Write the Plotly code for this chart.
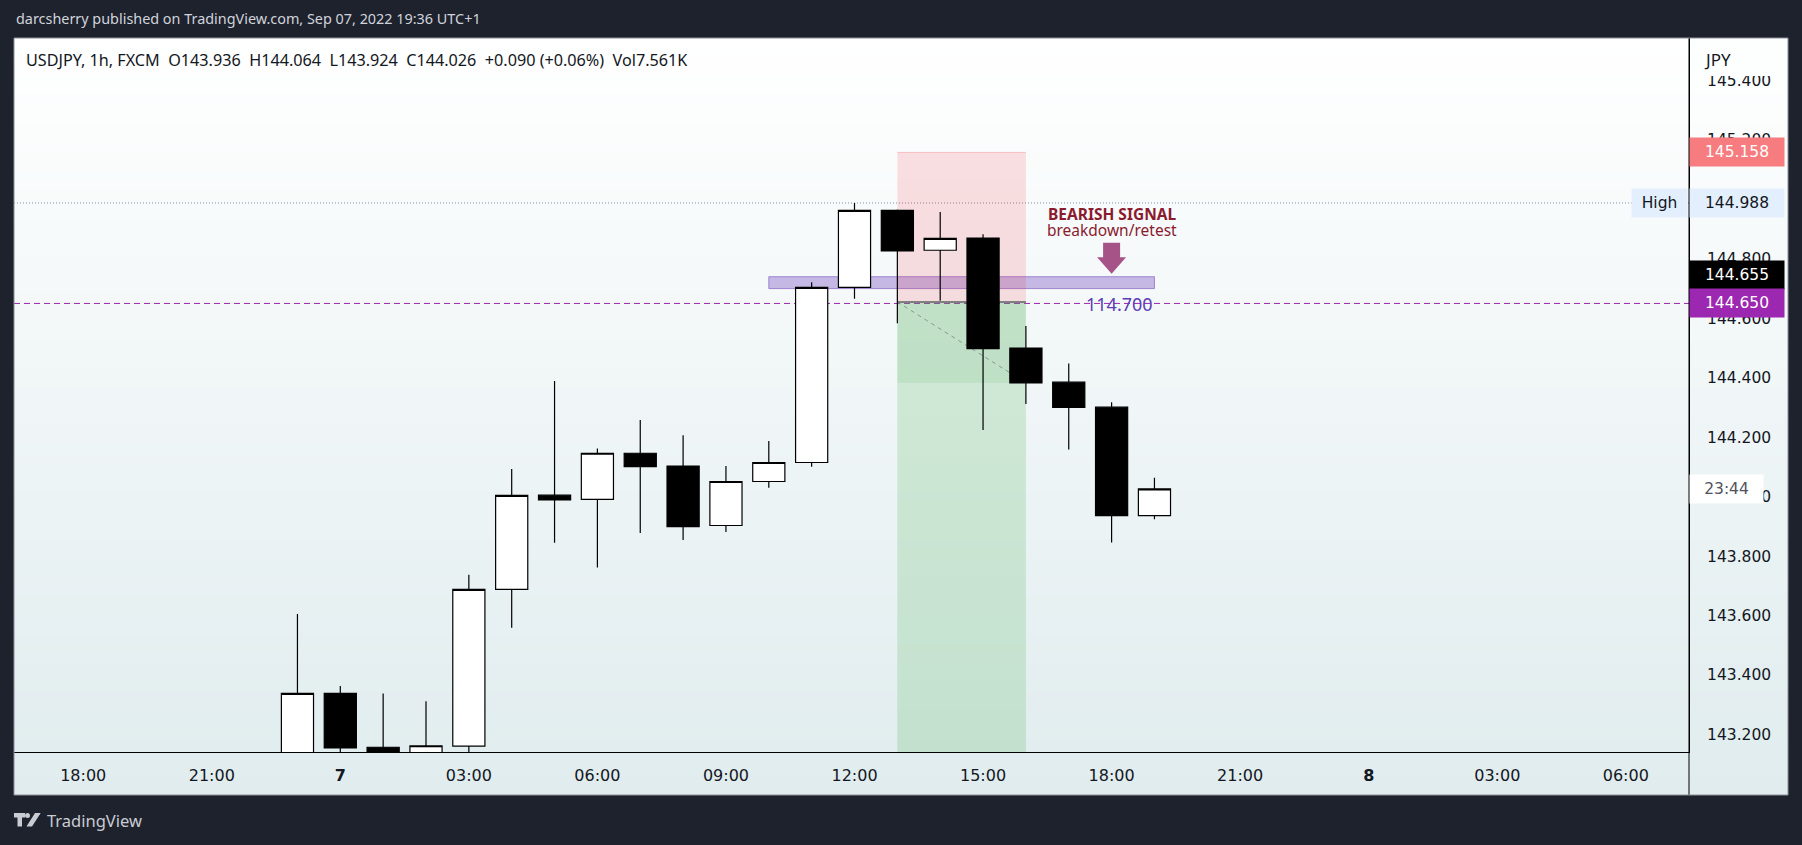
import plotly.graph_objects as go

# ---------------- data ----------------
times = ["2022-09-06 23:00", "2022-09-07 00:00", "2022-09-07 01:00", "2022-09-07 02:00",
         "2022-09-07 03:00", "2022-09-07 04:00", "2022-09-07 05:00", "2022-09-07 06:00",
         "2022-09-07 07:00", "2022-09-07 08:00", "2022-09-07 09:00", "2022-09-07 10:00",
         "2022-09-07 11:00", "2022-09-07 12:00", "2022-09-07 13:00", "2022-09-07 14:00",
         "2022-09-07 15:00", "2022-09-07 16:00", "2022-09-07 17:00", "2022-09-07 18:00",
         "2022-09-07 19:00"]
opens = [143.080, 143.338, 143.157, 143.120, 143.161, 143.688, 144.005, 143.991, 144.146, 144.103,
         143.903, 144.051, 144.115, 144.704, 144.963, 144.829, 144.870, 144.500, 144.385, 144.301,
         143.936]
highs = [143.605, 143.363, 143.338, 143.312, 143.737, 144.093, 144.389, 144.162, 144.258, 144.207,
         144.103, 144.187, 144.721, 144.988, 144.966, 144.958, 144.883, 144.574, 144.448, 144.318,
         144.064]
lows = [143.050, 143.090, 143.080, 143.090, 143.120, 143.559, 143.845, 143.762, 143.878, 143.854,
        143.881, 144.030, 144.101, 144.666, 144.583, 144.659, 144.224, 144.312, 144.159, 143.846,
        143.924]
closes = [143.338, 143.155, 143.120, 143.162, 143.688, 144.004, 143.989, 144.146, 144.101, 143.899,
          144.051, 144.115, 144.704, 144.963, 144.827, 144.869, 144.498, 144.383, 144.300, 143.936,
          144.026]

x_tick_times = ["2022-09-06 18:00", "2022-09-06 21:00", "2022-09-07 00:00", "2022-09-07 03:00",
                "2022-09-07 06:00", "2022-09-07 09:00", "2022-09-07 12:00", "2022-09-07 15:00",
                "2022-09-07 18:00", "2022-09-07 21:00", "2022-09-08 00:00", "2022-09-08 03:00",
                "2022-09-08 06:00"]
x_tick_text = ["18:00", "21:00", "<b>7</b>", "03:00", "06:00", "09:00", "12:00", "15:00",
               "18:00", "21:00", "<b>8</b>", "03:00", "06:00"]
y_ticks = [143.2, 143.4, 143.6, 143.8, 144.0, 144.2, 144.4, 144.6, 144.8, 145.0, 145.2, 145.4]
y_tick_text = ["%.3f" % v for v in y_ticks]

# short position tool
pos_start = "2022-09-07 13:00"
pos_end = "2022-09-07 16:00"
entry_price = 144.655
stop_price = 145.158
target_price = 142.900
pos_current = 144.383

# breakdown / retest zone
zone_start = "2022-09-07 10:00"
zone_end = "2022-09-07 19:00"
zone_low = 144.700
zone_high = 144.740

level_price = 144.650
level_text = "114.700"
session_high = 144.988
countdown = "23:44"
signal_time = "2022-09-07 18:00"

title_text = "darcsherry published on TradingView.com, Sep 07, 2022 19:36 UTC+1"
legend_text = ("USDJPY, 1h, FXCM\u00a0\u00a0O143.936\u00a0\u00a0H144.064\u00a0\u00a0L143.924"
               "\u00a0\u00a0C144.026\u00a0\u00a0+0.090 (+0.06%)\u00a0\u00a0Vol7.561K")

# ---------------- layout geometry (pixels) ----------------
W, H = 1802, 845
PL, PR, PT, PB = 14, 1689, 38, 752
PANEL_R, PANEL_B = 1788, 795


def px_x(px):
    return (px - PL) / (PR - PL)


def px_y(py):
    return (PB - py) / (PB - PT)


TXT = "#131722"
AX_FONT = dict(family="DejaVu Sans", size=15.5, color=TXT)
TIME_FONT = dict(family="DejaVu Sans", size=16, color=TXT)

fig = go.Figure()
fig.add_trace(go.Candlestick(
    x=times, open=opens, high=highs, low=lows, close=closes,
    increasing=dict(fillcolor="#ffffff", line=dict(color="#000000", width=1.2)),
    decreasing=dict(fillcolor="#000000", line=dict(color="#000000", width=1.2)),
    whiskerwidth=0, showlegend=False))

shapes = []
# panel gradient background: overlapping bands, each reaching the panel bottom
n = 80
top_c = (255, 255, 255)
bot_c = (224, 236, 238)
for i in range(n):
    t = (i + 0.5) / n
    c = tuple(round(top_c[k] + (bot_c[k] - top_c[k]) * t) for k in range(3))
    y_top = PT + (PANEL_B - PT) * i / n
    shapes.append(dict(type="rect", xref="paper", yref="paper", layer="below",
                       x0=px_x(PL), x1=px_x(PANEL_R), y0=px_y(PANEL_B), y1=px_y(y_top),
                       fillcolor="rgb(%d,%d,%d)" % c, line=dict(width=0)))

# zone band
shapes.append(dict(type="rect", xref="x", yref="y", layer="below",
                   x0=zone_start, x1=zone_end, y0=zone_low, y1=zone_high,
                   fillcolor="rgba(126,87,194,0.40)", line=dict(color="rgba(126,87,194,0.65)", width=1)))
# stop zone
shapes.append(dict(type="rect", xref="x", yref="y", layer="below",
                   x0=pos_start, x1=pos_end, y0=entry_price, y1=stop_price,
                   fillcolor="rgba(242,54,69,0.15)", line=dict(width=0)))
shapes.append(dict(type="line", xref="x", yref="y", layer="below",
                   x0=pos_start, x1=pos_end, y0=stop_price, y1=stop_price,
                   line=dict(color="rgba(242,54,69,0.25)", width=1)))
# profit zone
shapes.append(dict(type="rect", xref="x", yref="y", layer="below",
                   x0=pos_start, x1=pos_end, y0=target_price, y1=entry_price,
                   fillcolor="rgba(76,175,80,0.20)", line=dict(width=0)))
shapes.append(dict(type="rect", xref="x", yref="y", layer="below",
                   x0=pos_start, x1=pos_end, y0=pos_current, y1=entry_price,
                   fillcolor="rgba(76,175,80,0.12)", line=dict(width=0)))
# session high dotted line
shapes.append(dict(type="line", xref="paper", yref="y", layer="below",
                   x0=0, x1=1, y0=session_high, y1=session_high,
                   line=dict(color="#8a8d96", width=1, dash="1px,2px")))
# level dashed line
shapes.append(dict(type="line", xref="paper", yref="y", layer="below",
                   x0=0, x1=1, y0=level_price, y1=level_price,
                   line=dict(color="#9c27b0", width=1, dash="6px,4px")))
# entry line
shapes.append(dict(type="line", xref="x", yref="y", layer="below",
                   x0=pos_start, x1=pos_end, y0=entry_price, y1=entry_price,
                   line=dict(color="#808080", width=2)))
# diagonal path line
shapes.append(dict(type="line", xref="x", yref="y", layer="below",
                   x0=pos_start, x1=pos_end, y0=entry_price, y1=pos_current,
                   line=dict(color="rgba(120,123,134,0.75)", width=1, dash="4px,4px")))
# bearish arrow (pixel-sized, anchored above the zone)
shapes.append(dict(type="path", xref="x", yref="y", layer="above",
                   xsizemode="pixel", ysizemode="pixel",
                   xanchor=signal_time, yanchor=zone_high,
                   path="M 0 3 L -14.5 19.5 L -8.5 19.5 L -8.5 34 L 8.5 34 L 8.5 19.5 L 14.5 19.5 Z",
                   fillcolor="#a65488", line=dict(width=0)))
# price-axis divider extending into time axis strip
shapes.append(dict(type="line", xref="paper", yref="paper", layer="above",
                   x0=1, x1=1, y0=px_y(PANEL_B), y1=1,
                   line=dict(color="#000000", width=1)))
# cover at top of price axis for the currency label
shapes.append(dict(type="rect", xref="paper", yref="paper", layer="above",
                   x0=px_x(PR + 1), x1=px_x(PANEL_R), y0=px_y(76), y1=px_y(PT),
                   fillcolor="#fdfefe", line=dict(width=0)))
# panel border
shapes.append(dict(type="rect", xref="paper", yref="paper", layer="above",
                   x0=px_x(PL), x1=px_x(PANEL_R), y0=px_y(PANEL_B), y1=px_y(PT),
                   line=dict(color="#8c8f98", width=1), fillcolor="rgba(0,0,0,0)"))
# TradingView logo mark
LOGO_C = "#c9ccd3"
shapes.append(dict(type="rect", xref="paper", yref="paper", layer="above",
                   x0=px_x(14), x1=px_x(25), y0=px_y(817.5), y1=px_y(813),
                   fillcolor=LOGO_C, line=dict(width=0)))
shapes.append(dict(type="rect", xref="paper", yref="paper", layer="above",
                   x0=px_x(17.5), x1=px_x(22), y0=px_y(826.5), y1=px_y(813),
                   fillcolor=LOGO_C, line=dict(width=0)))
shapes.append(dict(type="circle", xref="paper", yref="paper", layer="above",
                   x0=px_x(25), x1=px_x(30), y0=px_y(818), y1=px_y(813),
                   fillcolor=LOGO_C, line=dict(width=0)))
shapes.append(dict(type="path", xref="paper", yref="paper", layer="above",
                   path="M %f %f L %f %f L %f %f L %f %f Z" % (
                       px_x(35), px_y(813), px_x(40.7), px_y(813),
                       px_x(32), px_y(826.5), px_x(26.5), px_y(826.5)),
                   fillcolor=LOGO_C, line=dict(width=0)))

ann = []
ann.append(dict(text=title_text, xref="paper", yref="paper", x=px_x(14), y=px_y(18),
                xanchor="left", yanchor="middle", showarrow=False,
                font=dict(family="Noto Sans", size=14.4, color="#d1d4dc")))
ann.append(dict(text="TradingView", xref="paper", yref="paper", x=px_x(45), y=px_y(820),
                xanchor="left", yanchor="middle", showarrow=False,
                font=dict(family="Noto Sans", size=16.5, color=LOGO_C)))
ann.append(dict(text=legend_text, xref="paper", yref="paper", x=px_x(24), y=px_y(60),
                xanchor="left", yanchor="middle", showarrow=False,
                font=dict(family="Noto Sans", size=16.2, color=TXT)))
ann.append(dict(text="JPY", xref="paper", yref="paper", x=px_x(1702), y=px_y(59),
                xanchor="left", yanchor="middle", showarrow=False,
                font=dict(family="Noto Sans", size=17, color=TXT)))


def price_box(text, y, bg, fg, yshift=0, width=94, x_px=PR, xanchor="left"):
    return dict(text=text, xref="paper", yref="y", x=px_x(x_px), y=y, xanchor=xanchor,
                yanchor="middle", yshift=yshift, showarrow=False, width=width, height=28,
                bgcolor=bg, borderpad=0, align="center",
                font=dict(family="DejaVu Sans", size=15.5, color=fg))


ann.append(price_box("%.3f" % stop_price, stop_price, "#f77c80", "#ffffff"))
ann.append(price_box("High", session_high, "#e3effd", TXT, width=55, x_px=PR - 1, xanchor="right"))
ann.append(price_box("%.3f" % session_high, session_high, "#e3effd", TXT))
ann.append(price_box("%.3f" % entry_price, entry_price, "#000000", "#ffffff", yshift=27))
ann.append(price_box("%.3f" % level_price, level_price, "#9c27b0", "#ffffff"))
ann.append(price_box(countdown, closes[-1], "#ffffff", "#50535e", width=73))

ann.append(dict(text="<b>BEARISH SIGNAL</b>", xref="x", yref="y", x=signal_time, y=zone_high,
                yshift=63, xanchor="center", yanchor="middle", showarrow=False,
                font=dict(family="Noto Sans", size=15.5, color="#8b1a2e")))
ann.append(dict(text="breakdown/retest", xref="x", yref="y", x=signal_time, y=zone_high,
                yshift=47, xanchor="center", yanchor="middle", showarrow=False,
                font=dict(family="Noto Sans", size=15.5, color="#8b1a2e")))
ann.append(dict(text=level_text, xref="x", yref="y", x=signal_time, y=level_price,
                xshift=8, yshift=-1, xanchor="center", yanchor="middle", showarrow=False,
                font=dict(family="Noto Sans", size=18, color="#5b3cb5")))

fig.update_layout(
    width=W, height=H,
    margin=dict(l=PL, r=W - PR, t=PT, b=H - PB, pad=0, autoexpand=False),
    paper_bgcolor="#1e222d", plot_bgcolor="rgba(0,0,0,0)",
    boxgap=0.25, boxgroupgap=0,
    showlegend=False,
    shapes=shapes, annotations=ann,
    xaxis=dict(type="date", range=["2022-09-06 16:23:06", "2022-09-08 07:28:30"],
               rangeslider=dict(visible=False), showgrid=False, zeroline=False,
               tickvals=x_tick_times, ticktext=x_tick_text, ticks="",
               tickfont=TIME_FONT, showline=True, linecolor="#000000", linewidth=1,
               ticklabelstandoff=9, fixedrange=True),
    yaxis=dict(side="right", range=[143.141, 145.543], showgrid=False, zeroline=False,
               tickvals=y_ticks, ticktext=y_tick_text, ticks="", tickfont=AX_FONT,
               showline=True, linecolor="#000000", linewidth=1,
               ticklabelstandoff=14, fixedrange=True),
)

fig.write_html(
    "out.html",
    config={"displayModeBar": False},
    post_script=("document.body.style.margin='0';"
                 "document.body.style.background='#1e222d';"
                 "document.documentElement.style.background='#1e222d';"),
)
